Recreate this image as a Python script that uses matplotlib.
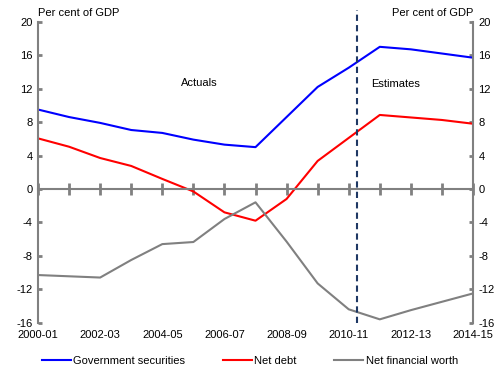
import matplotlib
matplotlib.use("Agg")
import matplotlib.pyplot as plt
import numpy as np

years = ["2000-01", "2001-02", "2002-03", "2003-04", "2004-05", "2005-06", "2006-07",
         "2007-08", "2008-09", "2009-10", "2010-11", "2011-12", "2012-13", "2013-14", "2014-15"]
gov_securities = [9.5, 8.6, 7.9, 7.05, 6.7, 5.9, 5.3, 5.0, 8.6, 12.2, 14.5, 17.0, 16.7, 16.2, 15.7]
net_debt = [6.05, 5.05, 3.7, 2.75, 1.2, -0.3, -2.8, -3.8, -1.2, 3.35, 6.1, 8.85, 8.55, 8.25, 7.8]
net_fin_worth = [-10.3, -10.45, -10.6, -8.5, -6.6, -6.35, -3.6, -1.6, -6.3, -11.3, -14.4, -15.6, -14.5, -13.5, -12.5]
yticks = [-16, -12, -8, -4, 0, 4, 8, 12, 16, 20]
xlabel_every = 2
split_pos = 10.27

plt.rcParams['font.family'] = ['Liberation Sans', 'DejaVu Sans']
plt.rcParams['axes.unicode_minus'] = False
fs = 8
grey = '#808080'

fig = plt.figure(figsize=(5, 3.75), dpi=100)
ax = fig.add_axes([0.076, 0.1395, 0.87, 0.8025])
x = np.arange(len(years))

ax.plot(x, gov_securities, color='#0000FF', lw=1.5, label='Government securities')
ax.plot(x, net_debt, color='#FF0000', lw=1.5, label='Net debt')
ax.plot(x, net_fin_worth, color=grey, lw=1.5, label='Net financial worth')

ax.set_xlim(0, len(years) - 1)
ax.set_ylim(-16, 20)

ax.axvline(split_pos, ymin=0, ymax=1.04, color='#1F3864', lw=1.5, ls=(0, (3, 2)), clip_on=False, zorder=5)

for s in ['top']:
    ax.spines[s].set_visible(False)
for s in ['left', 'right', 'bottom']:
    ax.spines[s].set_color(grey)
    ax.spines[s].set_linewidth(1.5)
ax.spines['bottom'].set_position(('data', 0))

ax.set_yticks(yticks)
ax.tick_params(axis='y', which='both', direction='in', length=3, width=2, color=grey,
               labelsize=fs, pad=4, left=True, right=True, labelleft=True, labelright=True)
ax.set_xticks(x)
ax.tick_params(axis='x', direction='inout', length=8, width=2, color=grey, labelbottom=False)

sec = ax.secondary_xaxis(0)
sec.set_xticks(x[::xlabel_every])
sec.set_xticklabels(years[::xlabel_every])
sec.tick_params(length=0, labelsize=fs, pad=5)
sec.spines['bottom'].set_visible(False)

ax.text(0, 1.03, 'Per cent of GDP', transform=ax.transAxes, fontsize=fs, ha='left', va='center')
ax.text(1, 1.03, 'Per cent of GDP', transform=ax.transAxes, fontsize=fs, ha='right', va='center')
ax.text(5.2, 12.7, 'Actuals', fontsize=fs, ha='center', va='center')
ax.text(11.5, 12.6, 'Estimates', fontsize=fs, ha='center', va='center')

fig.legend(loc='center', bbox_to_anchor=(0.5, 0.037), ncol=3, frameon=False, fontsize=fs,
           handlelength=2.6, handletextpad=0.2, columnspacing=3.4)

fig.savefig('out.png', dpi=100)
